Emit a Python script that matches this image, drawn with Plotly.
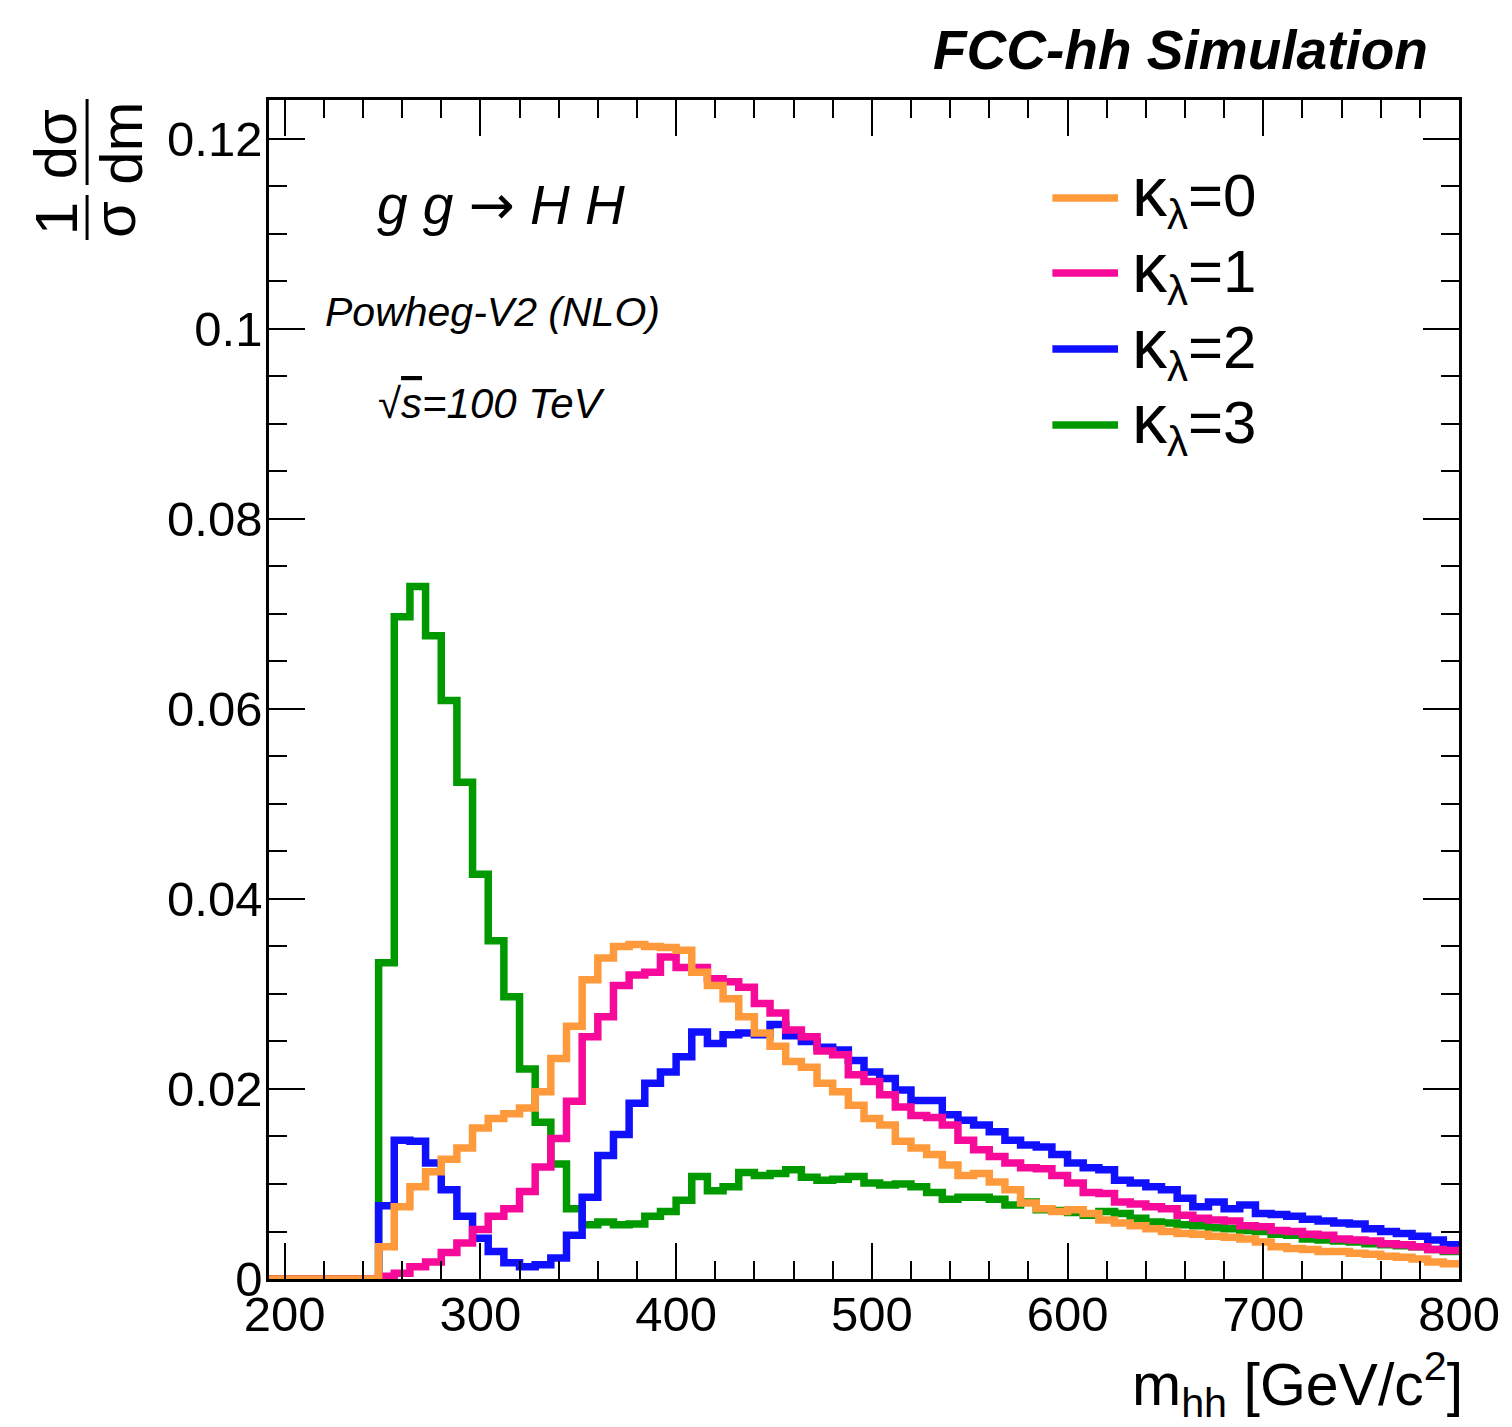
import plotly.graph_objects as go

# ---------------- data ----------------
BIN_WIDTH = 8
X_MIN, X_MAX = 192, 800
bin_low_edges = list(range(X_MIN, X_MAX, BIN_WIDTH))  # 76 bins of 8 GeV

zeros_before = [0.0] * 7  # bins 192..248 are empty

kappa0 = zeros_before + [
    0.0034, 0.0076, 0.0097, 0.0113, 0.0126, 0.0138, 0.0159, 0.0169, 0.0174, 0.0180,
    0.0197, 0.0232, 0.0266, 0.0315, 0.0338, 0.0350, 0.0352, 0.0350, 0.0349, 0.0346,
    0.0323, 0.0309, 0.0295, 0.0276, 0.0259, 0.0245, 0.0229, 0.0223, 0.0206, 0.0197,
    0.0183, 0.0169, 0.0162, 0.0145, 0.0138, 0.0131, 0.0120, 0.0109, 0.0111, 0.0102,
    0.0094, 0.0080, 0.0074, 0.0071, 0.0073, 0.0069, 0.0062, 0.0059, 0.0056, 0.0053,
    0.0050, 0.0048, 0.0047, 0.0045, 0.0044, 0.0042, 0.0039, 0.0034, 0.0032, 0.0031,
    0.0029, 0.0029, 0.0027, 0.0026, 0.0024, 0.0023, 0.0021, 0.0018, 0.0016]

kappa1 = zeros_before + [
    0.0003, 0.0006, 0.0013, 0.0018, 0.0028, 0.0038, 0.0052, 0.0066, 0.0074, 0.0092,
    0.0118, 0.0148, 0.0187, 0.0255, 0.0276, 0.0309, 0.0320, 0.0323, 0.0339, 0.0328,
    0.0328, 0.0316, 0.0313, 0.0307, 0.0290, 0.0280, 0.0262, 0.0255, 0.0240, 0.0236,
    0.0215, 0.0208, 0.0194, 0.0181, 0.0172, 0.0170, 0.0162, 0.0146, 0.0136, 0.0129,
    0.0122, 0.0117, 0.0116, 0.0109, 0.0101, 0.0091, 0.0090, 0.0081, 0.0079, 0.0076,
    0.0074, 0.0067, 0.0064, 0.0062, 0.0061, 0.0056, 0.0055, 0.0051, 0.0050, 0.0047,
    0.0046, 0.0042, 0.0041, 0.0040, 0.0037, 0.0036, 0.0034, 0.0031, 0.0030]

kappa2 = zeros_before + [
    0.0077, 0.0146, 0.0145, 0.0122, 0.0094, 0.0066, 0.0043, 0.0029, 0.0017, 0.0013,
    0.0015, 0.0022, 0.0046, 0.0086, 0.0130, 0.0152, 0.0185, 0.0206, 0.0218, 0.0234,
    0.0260, 0.0248, 0.0257, 0.0259, 0.0257, 0.0268, 0.0256, 0.0250, 0.0244, 0.0241,
    0.0230, 0.0218, 0.0211, 0.0199, 0.0188, 0.0188, 0.0173, 0.0167, 0.0162, 0.0155,
    0.0146, 0.0141, 0.0139, 0.0131, 0.0122, 0.0117, 0.0115, 0.0104, 0.0101, 0.0097,
    0.0094, 0.0085, 0.0076, 0.0081, 0.0074, 0.0078, 0.0069, 0.0068, 0.0066, 0.0063,
    0.0061, 0.0059, 0.0058, 0.0053, 0.0050, 0.0048, 0.0045, 0.0041, 0.0036]

kappa3 = zeros_before + [
    0.0333, 0.0697, 0.0729, 0.0677, 0.0609, 0.0523, 0.0426, 0.0356, 0.0297, 0.0221,
    0.0165, 0.0121, 0.0074, 0.0057, 0.0060, 0.0057, 0.0058, 0.0066, 0.0071, 0.0083,
    0.0108, 0.0093, 0.0097, 0.0112, 0.0109, 0.0111, 0.0115, 0.0107, 0.0104, 0.0105,
    0.0108, 0.0101, 0.0099, 0.0100, 0.0097, 0.0091, 0.0084, 0.0086, 0.0086, 0.0084,
    0.0078, 0.0081, 0.0073, 0.0072, 0.0070, 0.0067, 0.0071, 0.0069, 0.0064, 0.0060,
    0.0059, 0.0057, 0.0056, 0.0054, 0.0053, 0.0051, 0.0050, 0.0047, 0.0046, 0.0042,
    0.0041, 0.0040, 0.0039, 0.0037, 0.0036, 0.0035, 0.0034, 0.0031, 0.0029]

KAPPA = "<span style='font-size:70px'>κ</span>"
labels = [KAPPA + "<sub>λ</sub>=0", KAPPA + "<sub>λ</sub>=1",
          KAPPA + "<sub>λ</sub>=2", KAPPA + "<sub>λ</sub>=3"]
colors = ["#FF9A3C", "#F7099A", "#1010FF", "#009A00"]
series = [kappa0, kappa1, kappa2, kappa3]

y_tickvals = [0, 0.02, 0.04, 0.06, 0.08, 0.1, 0.12]
y_ticktext = ["0", "0.02", "0.04", "0.06", "0.08", "0.1", "0.12"]
x_tickvals = [200, 300, 400, 500, 600, 700, 800]

# ---------------- figure ----------------
W, H = 1512, 1427
L, R, T, B = 269, 1466, 100, 1279
FONT = "Liberation Sans, Arial, Helvetica, sans-serif"
LW = 7.5


def px(p):
    return (p - L) / (R - L)


def py(p):
    return (B - p) / (B - T)


fig = go.Figure()
edges = bin_low_edges + [X_MAX]
draw_order = [3, 2, 1, 0]
for i in draw_order:
    vals = series[i]
    fig.add_trace(go.Scatter(
        x=edges, y=vals + [vals[-1]], mode="lines",
        line=dict(shape="hv", color=colors[i], width=LW),
        name=labels[i], showlegend=False, hoverinfo="skip"))

axis_common = dict(
    showline=True, linecolor="black", linewidth=2.5, mirror="allticks",
    ticks="inside", tickcolor="black", tickwidth=2, showgrid=False,
    zeroline=False, tickfont=dict(family=FONT, size=49, color="black"),
)

fig.update_xaxes(range=[X_MIN, X_MAX], tickvals=x_tickvals, ticklen=36, ticklabelstandoff=-10,
                 minor=dict(dtick=20, ticklen=18, ticks="inside", tickcolor="black", tickwidth=2, showgrid=False),
                 **axis_common)
fig.update_yaxes(range=[0, 0.1241], tickvals=y_tickvals, ticktext=y_ticktext, ticklen=36, ticklabelstandoff=-6,
                 minor=dict(dtick=0.005, ticklen=18, ticks="inside", tickcolor="black", tickwidth=2, showgrid=False),
                 **axis_common)

annotations = []
shapes = []

# manual legend
legend_y = [198, 273, 349, 425]
for i in range(4):
    shapes.append(dict(type="line", xref="paper", yref="paper",
                       x0=px(1057), x1=px(1123), y0=py(legend_y[i]), y1=py(legend_y[i]),
                       line=dict(color=colors[i], width=LW)))
    annotations.append(dict(text=labels[i], xref="paper", yref="paper",
                            x=px(1135), y=py(legend_y[i] - 2), xanchor="left", yanchor="middle",
                            showarrow=False, font=dict(family=FONT, size=60, color="black")))

# texts
annotations.append(dict(text="<b><i>FCC-hh Simulation</i></b>", xref="paper", yref="paper",
                        x=px(1437), y=py(50), xanchor="right", yanchor="middle", showarrow=False,
                        font=dict(family=FONT, size=55, color="black")))
annotations.append(dict(text="<i>g g </i><span style='font-family:DejaVu Sans'>→</span><i> H H</i>",
                        xref="paper", yref="paper",
                        x=px(502), y=py(205), xanchor="center", yanchor="middle", showarrow=False,
                        font=dict(family=FONT, size=55, color="black")))
annotations.append(dict(text="<i>Powheg-V2 (NLO)</i>", xref="paper", yref="paper",
                        x=px(494), y=py(312), xanchor="center", yanchor="middle", showarrow=False,
                        font=dict(family=FONT, size=41, color="black")))
annotations.append(dict(text="<i>√<span style='text-decoration:overline'>s</span>=100 TeV</i>",
                        xref="paper", yref="paper",
                        x=px(493), y=py(404), xanchor="center", yanchor="middle", showarrow=False,
                        font=dict(family=FONT, size=42, color="black")))

# x axis title
annotations.append(dict(text="m<sub>hh</sub> [GeV/c<sup>2</sup>]", xref="paper", yref="paper",
                        x=px(1472), y=py(1384), xanchor="right", yanchor="middle", showarrow=False,
                        font=dict(family=FONT, size=59, color="black")))

# y axis title: (1/σ)(dσ/dm), rotated
ytitle_parts = [("1", 56, 219), ("σ", 114, 219), ("dσ", 54, 144), ("dm", 120, 143)]
for txt, cx, cy in ytitle_parts:
    annotations.append(dict(text=txt, xref="paper", yref="paper", x=px(cx), y=py(cy),
                            xanchor="center", yanchor="middle", textangle=-90, showarrow=False,
                            font=dict(family=FONT, size=60, color="black")))
shapes.append(dict(type="line", xref="paper", yref="paper", x0=px(86), x1=px(86),
                   y0=py(195), y1=py(240), line=dict(color="black", width=3)))
shapes.append(dict(type="line", xref="paper", yref="paper", x0=px(86), x1=px(86),
                   y0=py(99), y1=py(185), line=dict(color="black", width=3)))

fig.update_layout(
    width=W, height=H,
    margin=dict(l=L, r=W - R, t=T, b=H - B, pad=0),
    paper_bgcolor="white", plot_bgcolor="white",
    font=dict(family=FONT, color="black"),
    annotations=annotations, shapes=shapes,
    showlegend=False,
)

fig.write_html("out.html")
